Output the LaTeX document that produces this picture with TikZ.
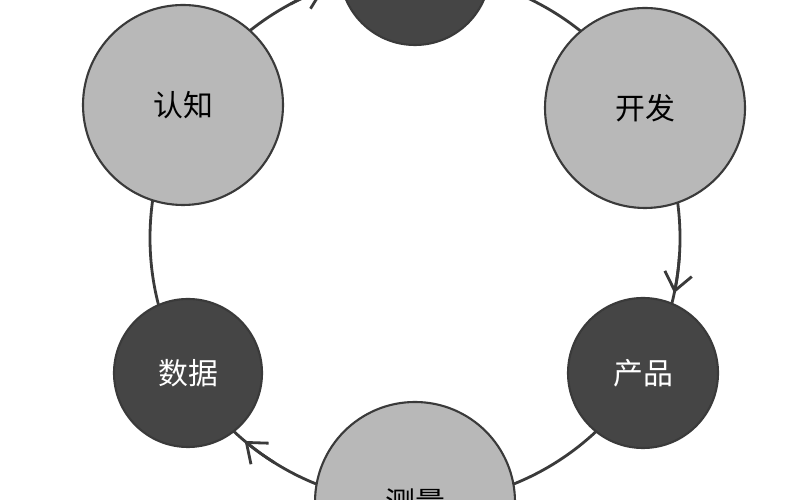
\documentclass[tikz,border=0pt]{standalone}
\usepackage{fontspec}
\newfontfamily\cjk{Noto Sans CJK SC}
\usetikzlibrary{arrows.meta,calc}
\definecolor{lg}{HTML}{B8B8B8}
\definecolor{dg}{HTML}{454545}
\definecolor{ln}{HTML}{3A3A3A}
\tikzset{
 light/.style={circle,draw=ln,line width=1.2pt,fill=lg,inner sep=0pt,font=\cjk\fontsize{17}{17}\selectfont,text=black},
 dark/.style={circle,draw=ln,line width=1.2pt,fill=dg,inner sep=0pt,font=\cjk\fontsize{17}{17}\selectfont,text=white},
 ring/.style={draw=ln,line width=1.6pt},
 arr/.style={ring,-{Straight Barb[length=3.5mm,width=5.5mm,line width=1.6pt]}}
}
\begin{document}
\begin{tikzpicture}
\useasboundingbox (0,0) rectangle (16,10);
\clip (0,0) rectangle (16,10);
\fill[white] (0,0) rectangle (16,10);
\coordinate (c) at (8.3,5.24);
\draw[ring] (c) circle (5.3);
\draw[arr] ($(c)+(118:5.3)$) arc (118:110:5.3);
\draw[arr] ($(c)+(-4:5.3)$) arc (-4:-12:5.3);
\draw[arr] ($(c)+(238:5.3)$) arc (238:230:5.3);
\node[dark,minimum size=3cm] (top) at (8.3,10.6) {};
\node[light,minimum size=4cm] (rz) at (3.66,7.9) {认知};
\node[light,minimum size=4cm] (kf) at (12.9,7.84) {开发};
\node[dark,minimum size=3cm] (cp) at (12.86,2.54) {产品};
\node[dark,minimum size=2.96cm] (sj) at (3.76,2.54) {数据};
\node[light,minimum size=4cm] (cl) at (8.3,-0.04) {测量};
\end{tikzpicture}
\end{document}
